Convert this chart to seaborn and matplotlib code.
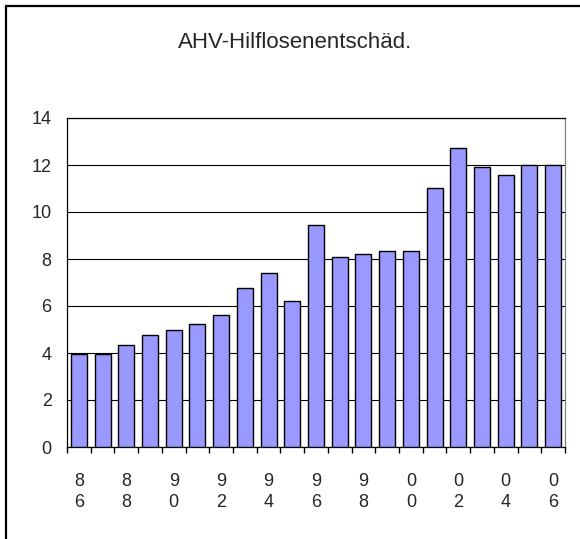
import numpy as np
import pandas as pd
import matplotlib
matplotlib.use("Agg")
import matplotlib.pyplot as plt
from matplotlib.patches import Rectangle
import seaborn as sns

# Data
YEARS = [str(y) for y in range(1986, 2007)]
VALUES = [3.94, 3.94, 4.33, 4.75, 4.96, 5.22, 5.61, 6.75, 7.42, 6.21,
          9.44, 8.10, 8.23, 8.36, 8.36, 11.04, 12.72, 11.91, 11.58, 11.98, 11.98]
TITLE = "AHV-Hilflosenentschäd."
YTICKS = [0, 2, 4, 6, 8, 10, 12, 14]

sns.set_style("white")
plt.rcParams["font.family"] = ["Liberation Sans", "DejaVu Sans"]

df = pd.DataFrame({"year": YEARS, "value": VALUES})

fig = plt.figure(figsize=(5.8, 5.39), dpi=100)
ax = fig.add_axes([67 / 580, 1 - 447 / 539, (565 - 67) / 580, (447 - 118) / 539])

sns.barplot(data=df, x="year", y="value", color="#9999FF", saturation=1,
            edgecolor="black", linewidth=1, width=0.68, ax=ax, zorder=3)

ax.set_xlim(-0.5, len(YEARS) - 0.5)
ax.set_ylim(0, 14)
ax.set_yticks(YTICKS)
ax.set_yticklabels([str(t) for t in YTICKS], fontsize=13)
ax.yaxis.grid(True, color="black", linewidth=0.8, zorder=0)
ax.set_axisbelow(True)

# tick marks between categories (major), labels every other year (minor)
ax.set_xticks(np.arange(-0.5, len(YEARS)))
ax.set_xticklabels([""] * (len(YEARS) + 1))
pos = list(range(0, len(YEARS), 2))
ax.set_xticks(pos, minor=True)
ax.set_xticklabels([YEARS[i][2] + "\n" + YEARS[i][3] for i in pos], minor=True,
                   fontsize=13, linespacing=1.3)
ax.tick_params(axis="x", which="major", length=4.5, width=1.0, color="black",
               direction="out", bottom=True)
ax.tick_params(axis="x", which="minor", length=0, pad=19, bottom=True)
ax.tick_params(axis="y", length=0, pad=11)

ax.set_xlabel("")
ax.set_ylabel("")
for side in ["left", "bottom", "top"]:
    ax.spines[side].set_color("black")
    ax.spines[side].set_linewidth(0.9)
ax.spines["right"].set_color("#808080")
ax.spines["right"].set_linewidth(0.9)

fig.text(295 / 580, 1 - 42 / 539, TITLE, ha="center", va="center", fontsize=16)

# outer chart frame (left/top visible)
fig.patches.append(Rectangle((6 / 580, -0.05), 1.2, 1 - 6 / 539 + 0.05,
                             transform=fig.transFigure, fill=False,
                             edgecolor="black", linewidth=1.6))

fig.savefig("out.png", dpi=100)
